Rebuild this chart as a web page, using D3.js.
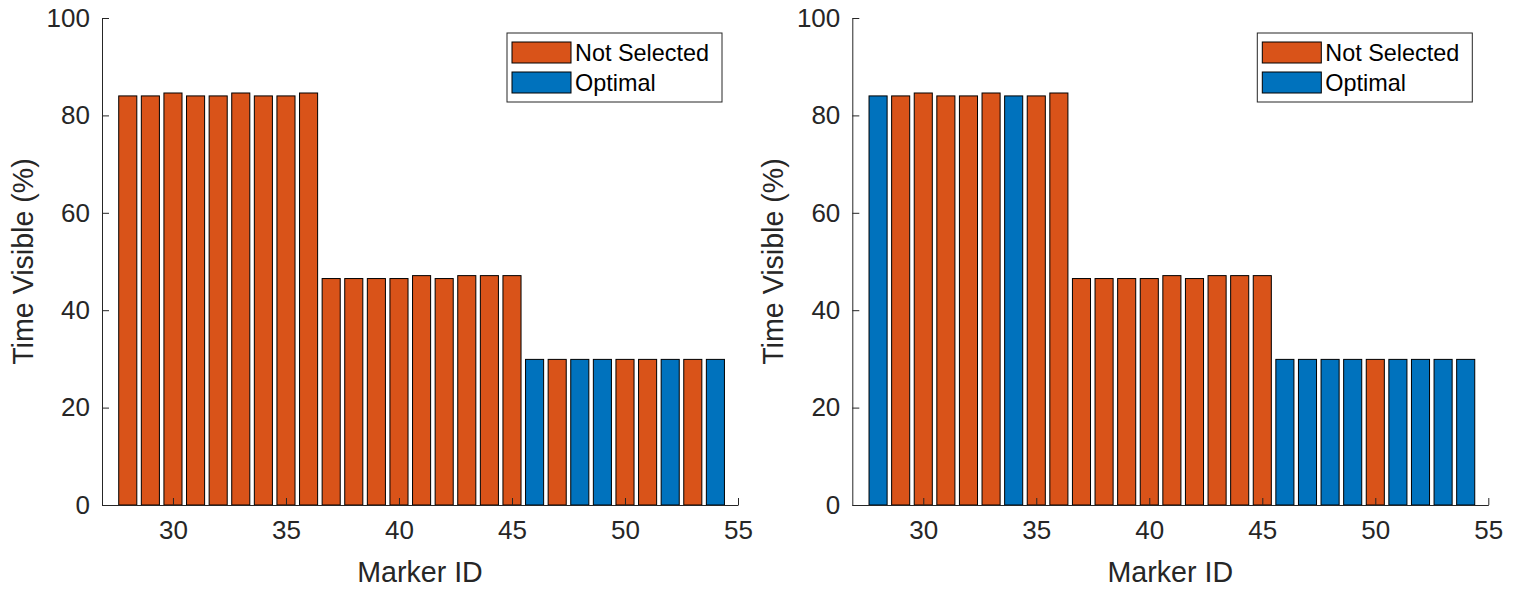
<!DOCTYPE html>
<html>
<head>
<meta charset="utf-8">
<script src="https://cdn.jsdelivr.net/npm/d3@7"></script>
<style>
  body { margin: 0; background: #fff; }
  text { font-family: "Liberation Sans", Arial, sans-serif; }
</style>
</head>
<body>
<div id="chart"></div>
<script>
// data
const markerIds = [28, 29, 30, 31, 32, 33, 34, 35, 36, 37, 38, 39, 40, 41, 42, 43, 44, 45, 46, 47, 48, 49, 50, 51, 52, 53, 54];
const timeVisible = [84, 84, 84.6, 84, 84, 84.6, 84, 84, 84.6,
    46.5, 46.5, 46.5, 46.5, 47.1, 46.5, 47.1, 47.1, 47.1,
    29.9, 29.9, 29.9, 29.9, 29.9, 29.9, 29.9, 29.9, 29.9];
// "N" = Not Selected, "O" = Optimal
const statusLeft = ["N", "N", "N", "N", "N", "N", "N", "N", "N",
    "N", "N", "N", "N", "N", "N", "N", "N", "N",
    "O", "N", "O", "O", "N", "N", "O", "N", "O"];
const statusRight = ["O", "N", "N", "N", "N", "N", "O", "N", "N",
    "N", "N", "N", "N", "N", "N", "N", "N", "N",
    "O", "O", "O", "O", "N", "O", "O", "O", "O"];
const xTicks = [30, 35, 40, 45, 50, 55];
const yTicks = [0, 20, 40, 60, 80, 100];
const legendLabels = ["Not Selected", "Optimal"];

const colors = { N: "#D95319", O: "#0072BD" };
const axisColor = "#262626";

const W = 1519, H = 590;
const svg = d3.select("#chart").append("svg")
    .attr("width", W)
    .attr("height", H);

const panels = [
    { left: 102, status: statusLeft },
    { left: 852.3, status: statusRight }
];
const plotW = 636, plotTop = 18, plotBottom = 505;

panels.forEach(p => {
    const g = svg.append("g");
    const x = d3.scaleLinear().domain([26.86, 55]).range([p.left, p.left + plotW]);
    const y = d3.scaleLinear().domain([0, 100]).range([plotBottom, plotTop]);
    const bw = x(0.8) - x(0);

    // bars
    g.selectAll("rect.bar").data(markerIds).enter()
        .append("rect")
        .attr("class", "bar")
        .attr("x", (d, i) => x(d) - bw / 2)
        .attr("y", (d, i) => y(timeVisible[i]))
        .attr("width", bw)
        .attr("height", (d, i) => y(0) - y(timeVisible[i]))
        .attr("fill", (d, i) => colors[p.status[i]])
        .attr("stroke", "#000")
        .attr("stroke-width", 1);

    // x axis
    const xAxis = d3.axisBottom(x).tickValues(xTicks).tickSizeInner(-7).tickSizeOuter(0).tickPadding(16);
    const gx = g.append("g").attr("transform", `translate(0,${plotBottom})`).call(xAxis);
    // y axis
    const yAxis = d3.axisLeft(y).tickValues(yTicks).tickSizeInner(-7).tickSizeOuter(0).tickPadding(12);
    const gy = g.append("g").attr("transform", `translate(${p.left},0)`).call(yAxis);

    [gx, gy].forEach(a => {
        a.select(".domain").attr("stroke", axisColor).attr("stroke-width", 1);
        a.selectAll(".tick line").attr("stroke", axisColor).attr("stroke-width", 1);
        a.selectAll(".tick text")
            .attr("fill", axisColor)
            .style("font-size", "26px")
            .style("font-family", "'Liberation Sans', Arial, sans-serif");
    });
    gx.selectAll(".tick text").attr("dy", "0.71em");

    // x label
    g.append("text")
        .attr("x", p.left + 318)
        .attr("y", 582)
        .attr("text-anchor", "middle")
        .attr("fill", axisColor)
        .style("font-size", "28.6px")
        .text("Marker ID");

    // y label
    g.append("text")
        .attr("transform", `translate(${p.left - 69},${(plotTop + plotBottom) / 2}) rotate(-90)`)
        .attr("text-anchor", "middle")
        .attr("fill", axisColor)
        .style("font-size", "28.6px")
        .text("Time Visible (%)");

    // legend
    const lx = p.left + 405, ly = 33;
    g.append("rect")
        .attr("x", lx)
        .attr("y", ly)
        .attr("width", 215)
        .attr("height", 69)
        .attr("fill", "#fff")
        .attr("stroke", axisColor)
        .attr("stroke-width", 1);
    legendLabels.forEach((lab, i) => {
        g.append("rect")
            .attr("x", lx + 5)
            .attr("y", ly + 9 + i * 30)
            .attr("width", 59)
            .attr("height", 21)
            .attr("fill", i === 0 ? colors.N : colors.O)
            .attr("stroke", "#000")
            .attr("stroke-width", 1);
        g.append("text")
            .attr("x", lx + 68)
            .attr("y", ly + 19.5 + i * 30)
            .attr("dy", "0.36em")
            .attr("fill", "#000")
            .style("font-size", "23.4px")
            .text(lab);
    });
});
</script>
</body>
</html>
